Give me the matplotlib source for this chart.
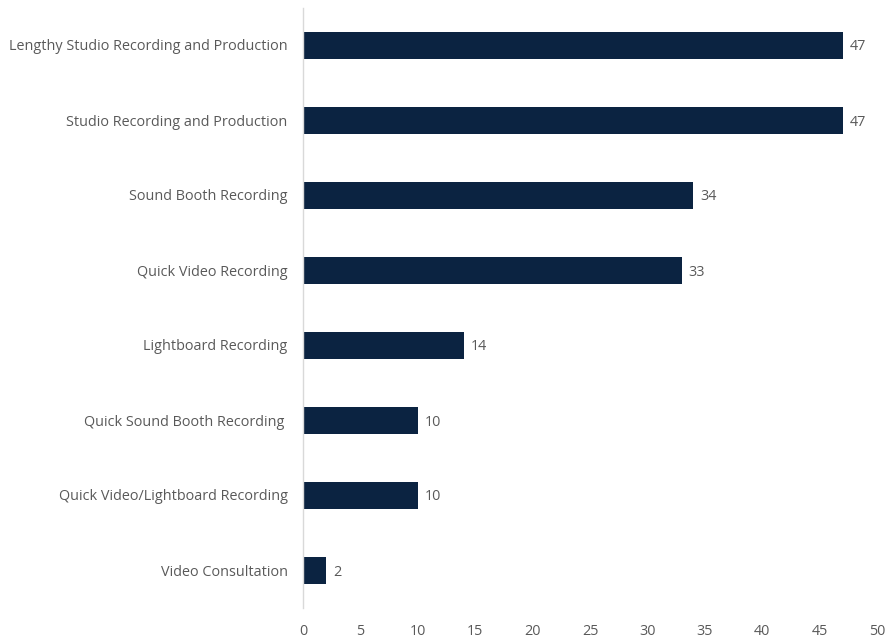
import matplotlib.pyplot as plt

plt.rcParams['font.family'] = ['Open Sans', 'DejaVu Sans']

# services, top to bottom
services = [
    'Lengthy Studio Recording and Production',
    'Studio Recording and Production',
    'Sound Booth Recording',
    'Quick Video Recording',
    'Lightboard Recording',
    'Quick Sound Booth Recording ',
    'Quick Video/Lightboard Recording',
    'Video Consultation',
]
counts = [47, 47, 34, 33, 14, 10, 10, 2]
xticks = [0, 5, 10, 15, 20, 25, 30, 35, 40, 45, 50]

bar_color = '#0B2341'
text_color = '#595959'
fs = 10.4

fig = plt.figure(figsize=(8.87, 6.39), dpi=100)
ax = fig.add_axes([303 / 887, 31.5 / 639, 574 / 887, 600 / 639])

pos = list(range(len(services)))
bars = ax.barh(pos, counts, height=0.36, color=bar_color)
ax.set_ylim(len(services) - 0.5, -0.5)
ax.set_xlim(0, 50)

for b, v in zip(bars, counts):
    ax.text(b.get_width() + 0.6, b.get_y() + b.get_height() / 2, str(v),
            va='center_baseline', ha='left', fontsize=fs, color=text_color)

ax.set_yticks(pos)
ax.set_yticklabels(services, fontsize=fs, color=text_color,
                   va='center_baseline')
ax.set_xticks(xticks)
ax.set_xticklabels([str(t) for t in xticks], fontsize=fs, color=text_color)
ax.tick_params(axis='both', length=0)
ax.tick_params(axis='y', pad=11)
ax.tick_params(axis='x', pad=12)

for side in ['top', 'right', 'bottom']:
    ax.spines[side].set_visible(False)
ax.spines['left'].set_color('#D9D9D9')
ax.spines['left'].set_linewidth(1)

fig.savefig('out.png', dpi=100)
